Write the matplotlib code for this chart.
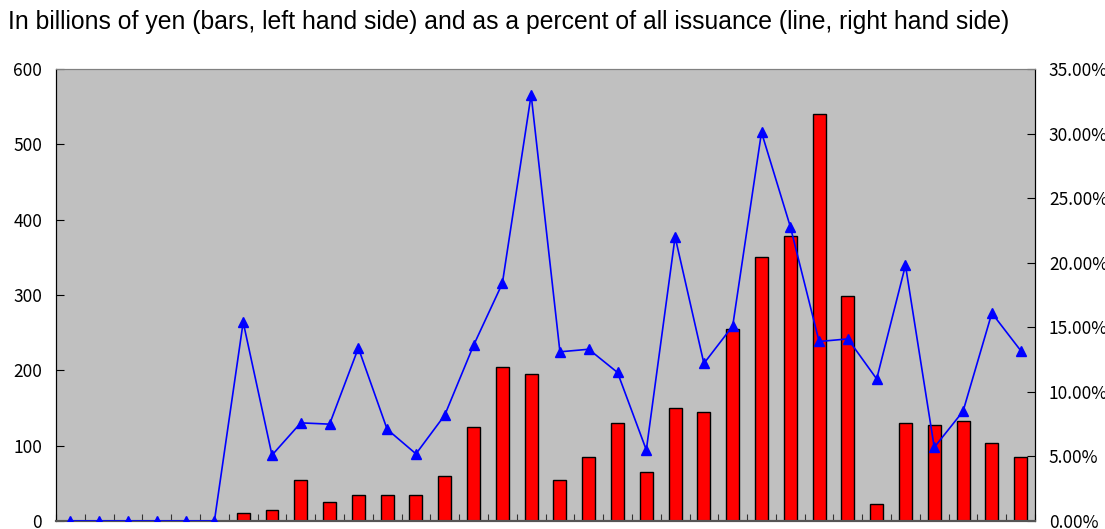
import numpy as np
import matplotlib.pyplot as plt
from matplotlib.ticker import FuncFormatter

# issuance in billions of yen (bars) and share of all issuance in % (line)
yen_bn = [0, 0, 0, 0, 0, 0, 10, 15, 55, 25, 35, 35, 35, 60, 125, 205, 195,
          55, 85, 130, 65, 150, 145, 255, 350, 378, 540, 299, 22, 130, 127,
          133, 103, 85]
pct_share = [0, 0, 0, 0, 0, 0, 15.4, 5.1, 7.6, 7.5, 13.4, 7.1, 5.2, 8.2,
             13.6, 18.4, 33.0, 13.1, 13.3, 11.5, 5.5, 22.0, 12.2, 15.1,
             30.1, 22.8, 13.9, 14.1, 11.0, 19.8, 5.7, 8.5, 16.1, 13.2]

x = np.arange(len(yen_bn))

fig = plt.figure(figsize=(11.05, 5.29), dpi=100)
ax = fig.add_axes([0.0507, 0.0151, 0.886, 0.8545])
ax.set_facecolor('#c0c0c0')

ax.bar(x, yen_bn, width=0.45, color='#ff0000', edgecolor='black', linewidth=1, zorder=2)
ax.set_xlim(-0.5, len(x) - 0.5)
ax.set_ylim(0, 600)
ax.set_yticks(range(0, 601, 100))
ax.set_xticks(np.arange(-0.5, len(x) - 0.4, 1))
ax.set_xticklabels([])
ax.tick_params(axis='x', direction='in', length=5, color='#333333')
ax.tick_params(axis='y', direction='in', length=6, labelsize=12.5, pad=10)

ax2 = ax.twinx()
ax2.plot(x, pct_share, color='#0000ff', lw=1.2, marker='^', markersize=7, zorder=3)
ax2.set_ylim(0, 35)
ax2.set_yticks(range(0, 36, 5))
ax2.yaxis.set_major_formatter(FuncFormatter(lambda v, p: f'{v:.2f}%'))
ax2.tick_params(axis='y', direction='in', length=6, labelsize=12.5, pad=10)

for a in (ax, ax2):
    a.spines['top'].set_color('#808080')
    a.spines['left'].set_color('black')
    a.spines['right'].set_color('black')
    a.spines['bottom'].set_color('#555555')
    a.spines['bottom'].set_linewidth(1.5)
    for lab in a.get_yticklabels():
        lab.set_family(['Noto Sans CJK JP', 'DejaVu Sans'])

fig.text(0.007, 0.958, 'In billions of yen (bars, left hand side) and as a percent of all issuance (line, right hand side)',
         fontsize=17.8, family='Liberation Sans', va='center', ha='left')

plt.savefig('out.png', dpi=100, facecolor='w')
